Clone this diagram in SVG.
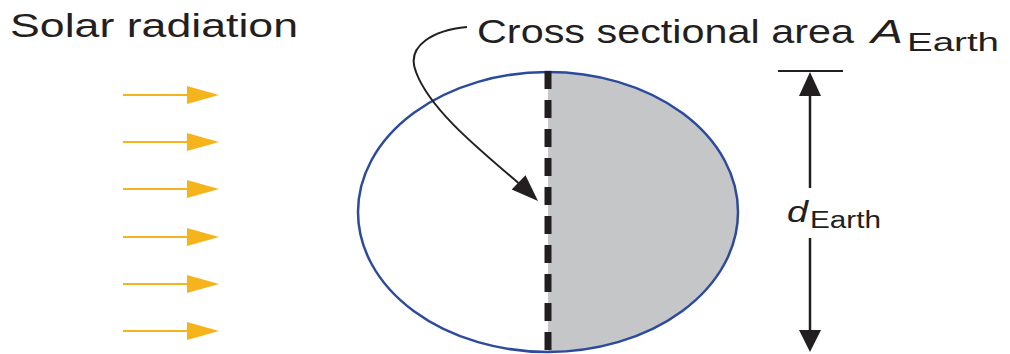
<svg xmlns="http://www.w3.org/2000/svg" width="1010" height="354" viewBox="0 0 1010 354">
<style>
.t{font-family:"Liberation Sans",Arial,sans-serif;fill:#231f20}
.ray{stroke:#f5b31c;stroke-width:2}
.rayh{fill:#f5b31c}
.blk{stroke:#231f20;fill:none}
</style>
<defs>
<g id="ray"><line class="ray" x1="123" y1="0" x2="190" y2="0"/><polygon class="rayh" points="187,-9 219,0 187,9"/></g>
</defs>
<rect width="1010" height="354" fill="#fff"/>
<g id="earth">
<ellipse cx="548" cy="212" rx="190" ry="140" fill="#fff"/>
<path d="M548,72 A190,140 0 0 1 548,352 Z" fill="#c5c6c8"/>
<ellipse cx="548" cy="212" rx="190" ry="140" fill="none" stroke="#2d4b9c" stroke-width="2.5"/>
<line x1="548" y1="71" x2="548" y2="354" stroke="#231f20" stroke-width="7" stroke-dasharray="18 11"/>
</g>
<g id="solar">
<text class="t" x="10" y="37" font-size="33" textLength="288" lengthAdjust="spacingAndGlyphs">Solar radiation</text>
<use href="#ray" y="95"/>
<use href="#ray" y="142"/>
<use href="#ray" y="189"/>
<use href="#ray" y="237"/>
<use href="#ray" y="284"/>
<use href="#ray" y="331"/>
</g>
<g id="label-area">
<text class="t" x="477" y="43" font-size="33" textLength="377" lengthAdjust="spacingAndGlyphs">Cross sectional area</text>
<text class="t" x="871" y="43" font-size="33" font-style="italic" textLength="32" lengthAdjust="spacingAndGlyphs">A</text>
<text class="t" x="907" y="51" font-size="26" textLength="92" lengthAdjust="spacingAndGlyphs">Earth</text>
</g>
<g id="label-d">
<text class="t" x="787" y="222" font-size="30" font-style="italic" textLength="21" lengthAdjust="spacingAndGlyphs">d</text>
<text class="t" x="810" y="228" font-size="23" textLength="71" lengthAdjust="spacingAndGlyphs">Earth</text>
</g>
<g id="connectors">
<path class="blk" stroke-width="2" d="M467,27 C435,30 405,45 416,72 C430,110 480,150 522,186"/>
<polygon fill="#231f20" points="538,201 511.7,189.6 525.5,175.2"/>
<line class="blk" stroke-width="2" x1="778" y1="71" x2="843" y2="71"/>
<line class="blk" stroke-width="2.5" x1="810" y1="94" x2="810" y2="188"/>
<polygon fill="#231f20" points="810,72 799,96 821,96"/>
<line class="blk" stroke-width="2.5" x1="810" y1="238" x2="810" y2="332"/>
<polygon fill="#231f20" points="810,352 799,330 821,330"/>
</g>
</svg>
